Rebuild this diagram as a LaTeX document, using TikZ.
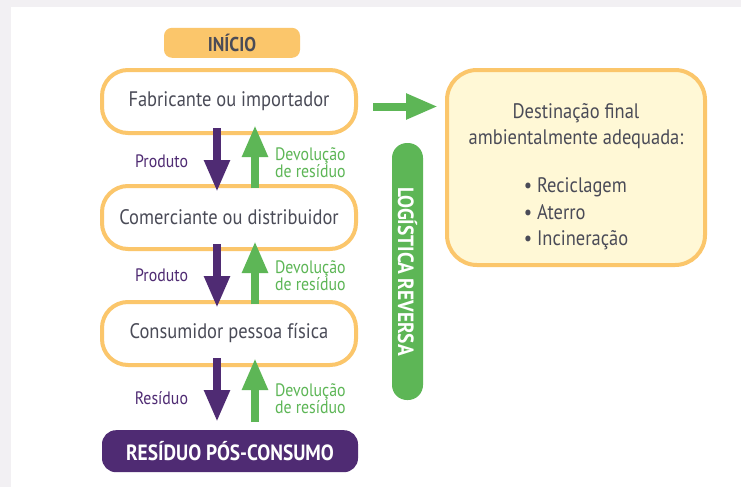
\documentclass[tikz,border=0pt]{standalone}
\usepackage{fontspec}
\setmainfont[FakeStretch=0.88]{PT Sans}
\usepackage{tikz}
\usetikzlibrary{arrows.meta,positioning}

\definecolor{laranja}{HTML}{FBC66B}
\definecolor{creme}{HTML}{FFF8D6}
\definecolor{roxo}{HTML}{4F2B73}
\definecolor{verde}{HTML}{5DB656}
\definecolor{cinza}{HTML}{4A4B57}
\definecolor{fundo}{HTML}{F2F0F3}

\tikzset{
	caixa/.style={draw=laranja, line width=4pt, fill=white, rounded corners=26pt, align=center,
		minimum width=254pt, minimum height=63pt, text=cinza, font=\fontsize{21}{26}\selectfont},
	seta roxa/.style={draw=roxo, line width=8pt, -{Triangle[width=24pt,length=32pt]}},
	seta verde/.style={draw=verde, line width=8pt, -{Triangle[width=24pt,length=32pt]}},
	rotulo roxo/.style={inner sep=0pt, outer sep=0pt, text=roxo, font=\fontsize{18}{17}\selectfont},
	rotulo verde/.style={inner sep=0pt, outer sep=0pt, text=verde, align=left, font=\fontsize{18}{17}\selectfont},
}

\begin{document}
\begin{tikzpicture}[x=1pt,y=-1pt]
				% fundo
				\useasboundingbox (0,0) rectangle (741,487);
				\fill[fundo] (0,0) rectangle (741,487);
				\fill[white] (11,7) rectangle (741,487);
				
				% caixas da cadeia
				\node[caixa] (fab) at (229,101.5) {Fabricante ou importador};
				\node[caixa, below=49pt of fab] (com) {Comerciante ou distribuidor};
				\node[caixa, below=49pt of com] (cons) {Consumidor pessoa física};
				
				% inicio e fim
				\node[fill=laranja, rounded corners=8pt, minimum width=136pt, minimum height=30pt,
					text=cinza, font=\fontsize{20}{22}\selectfont\bfseries, above=10pt of fab, xshift=3pt] (inicio) {INÍCIO};
				\node[fill=roxo, rounded corners=14pt, minimum width=256pt, minimum height=42pt,
					text=white, font=\fontsize{22}{24}\selectfont\bfseries, below=63pt of cons, xshift=1pt] (resid) {RESÍDUO PÓS-CONSUMO};
				
				% destinacao final
				\node[caixa, fill=creme, rounded corners=30pt, minimum width=258pt, minimum height=195pt] (dest) at (576,167.5) {};
				\node[text=cinza, align=center, font=\fontsize{21}{26.5}\selectfont] (desttexto) at ([yshift=-11pt]dest.center)
					{Destinação final\\ambientalmente adequada:\\[24pt]
					\begin{tabular}{@{}l@{}}\textbullet\ Reciclagem\\\textbullet\ Aterro\\\textbullet\ Incineração\end{tabular}};
				
				% barra logistica reversa
				\node[fill=verde, rounded corners=15pt, rotate=-90, minimum width=257pt, minimum height=31pt,
					text=white, font=\fontsize{22}{24}\selectfont\bfseries] (logist) at (407.5,271.5) {LOGÍSTICA REVERSA};
				
				% setas
				\draw[seta roxa, shorten <=-7pt, shorten >=-8pt] ([xshift=-12pt]fab.south) -- ([xshift=-12pt]com.north)
					node[rotulo roxo, midway, left=29pt, yshift=-2pt] {Produto};
				\draw[seta verde, shorten <=-4pt, shorten >=-10pt] ([xshift=26pt]com.north) -- ([xshift=26pt]fab.south)
					node[rotulo verde, midway, right=20pt, yshift=-3pt] {Devolução\\de resíduo};
				\draw[seta roxa, shorten <=-7pt, shorten >=-8pt] ([xshift=-12pt]com.south) -- ([xshift=-12pt]cons.north)
					node[rotulo roxo, midway, left=29pt] {Produto};
				\draw[seta verde, shorten <=-4pt, shorten >=-10pt] ([xshift=26pt]cons.north) -- ([xshift=26pt]com.south)
					node[rotulo verde, midway, right=20pt] {Devolução\\de resíduo};
				\draw[seta roxa, shorten <=-9pt, shorten >=8pt] ([xshift=-12pt]cons.south) -- ([xshift=-12pt]cons.south |- resid.north)
					node[rotulo roxo, midway, left=29pt] {Resíduo};
				\draw[seta verde, shorten <=8pt, shorten >=-9pt] ([xshift=26pt]cons.south |- resid.north) -- ([xshift=26pt]cons.south)
					node[rotulo verde, midway, right=20pt] {Devolução\\de resíduo};
				\draw[seta verde, shorten <=15pt, shorten >=7pt] ([yshift=-5pt]fab.east) -- ([yshift=-5pt]fab.east -| dest.west);
				
\end{tikzpicture}
\end{document}
